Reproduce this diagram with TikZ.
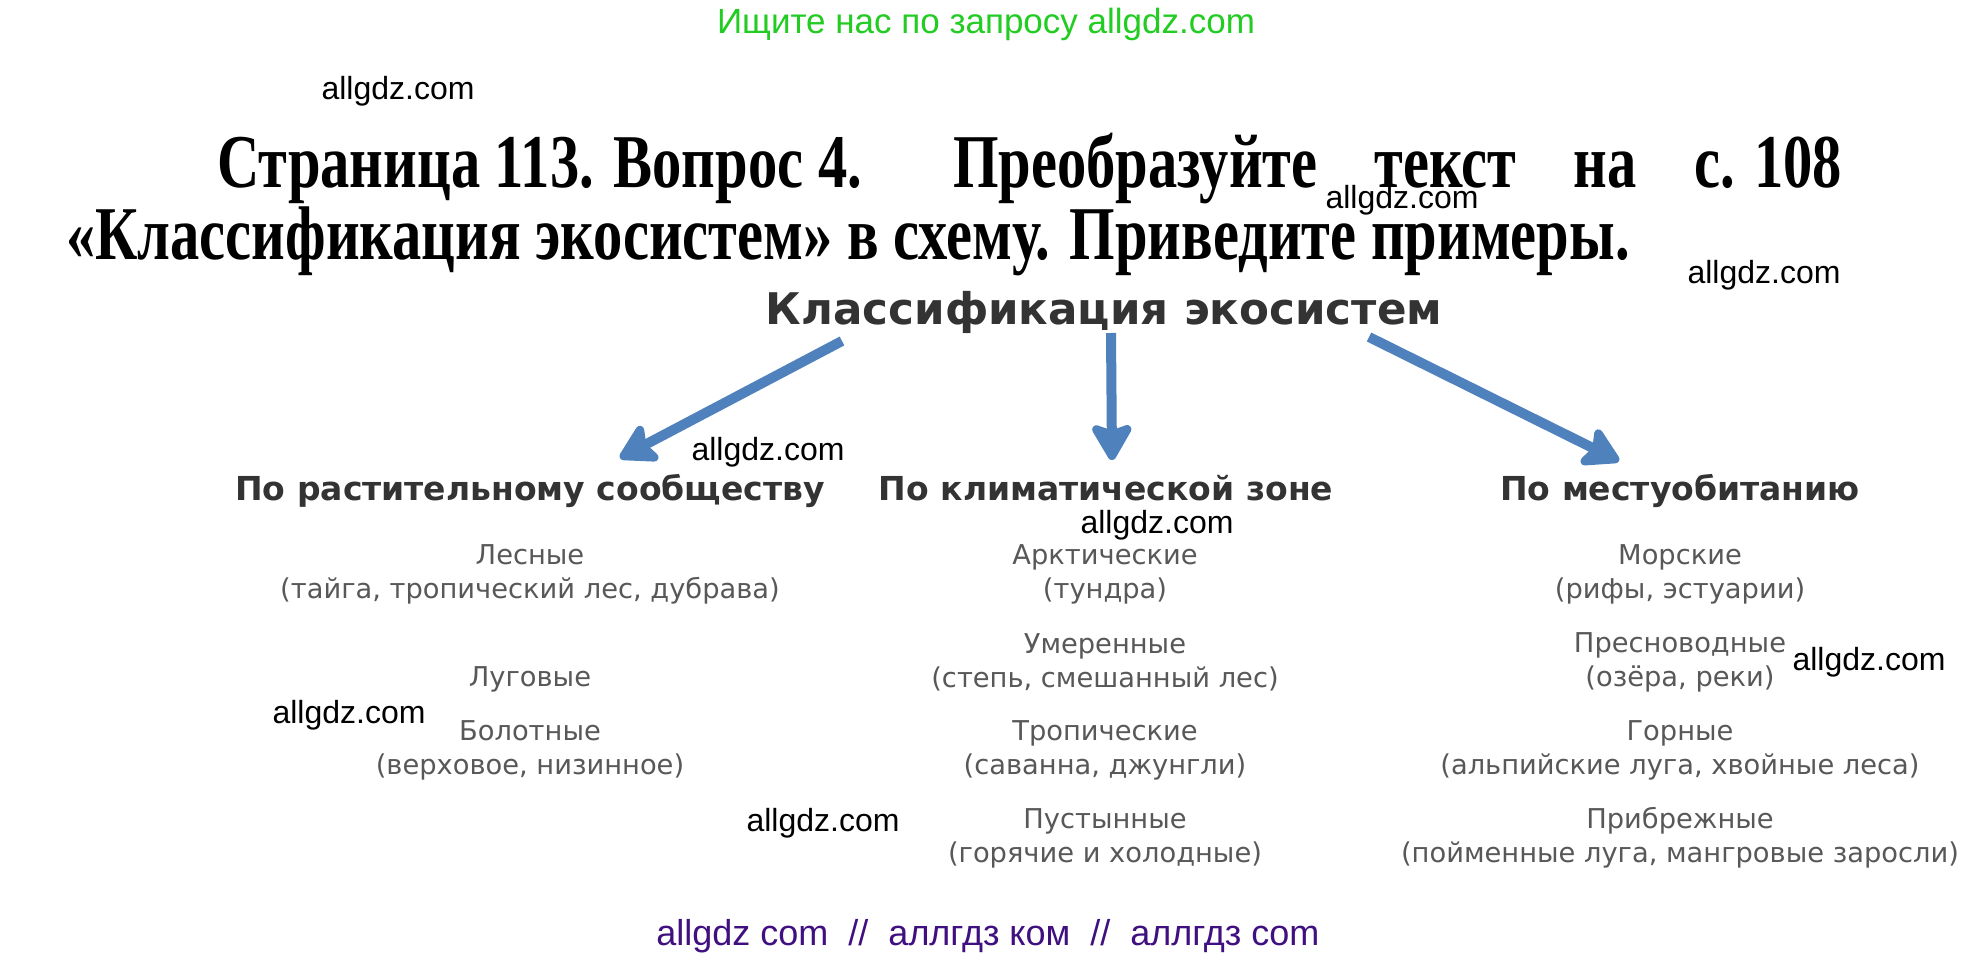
\documentclass[tikz,border=0pt]{standalone}
\usepackage{fontspec}
\setmainfont{Liberation Serif}
\newfontfamily\taskfont[FakeStretch=0.77]{Liberation Serif}
\newfontfamily\dejavu{DejaVu Sans}
\newfontfamily\wmfont{Liberation Sans}
\usetikzlibrary{arrows.meta}

\definecolor{arrowblue}{RGB}{79,129,189}
\definecolor{headgray}{RGB}{51,51,51}
\definecolor{itemgray}{RGB}{88,88,88}
\definecolor{searchgreen}{RGB}{34,204,34}
\definecolor{footpurple}{RGB}{64,16,128}

\tikzset{
  wmark/.style={font=\wmfont\fontsize{32}{38}\selectfont, text=black, inner sep=0pt},
  taskline/.style={font=\taskfont\bfseries\fontsize{76}{90}\selectfont, inner sep=0pt, anchor=base west},
  headline/.style={font=\dejavu\bfseries\fontsize{33}{40}\selectfont, text=headgray, inner sep=0pt, anchor=base},
  item/.style={font=\dejavu\fontsize{27.3}{34}\selectfont, text=itemgray, align=center, inner sep=0pt},
  bigarrow/.style={arrowblue, line width=10pt, -{Stealth[length=42pt,width=48pt,inset=8pt,round]}},
}

\begin{document}
\begin{tikzpicture}[x=1pt, y=-1pt]
\useasboundingbox[fill=white] (0,0) rectangle (1970,956);

% site lines
\node[font=\wmfont\fontsize{35}{42}\selectfont, text=searchgreen] (search) at (986,24) {Ищите нас по запросу allgdz.com};
\node[font=\wmfont\fontsize{36}{42}\selectfont, text=footpurple] (foot) at (988,936) {allgdz com \ // \ аллгдз ком \ // \ аллгдз com};

% task
\node[taskline] (task1) at (217,187) {Страница 113. Вопрос 4.};
\node[taskline] (task2) at (953,187) {\hbox to 889pt{Преобразуйте\hfill текст\hfill на\hfill с. 108}};
\node[taskline] (task3) at (66,259) {«Классификация экосистем» в схему. Приведите примеры.};

% scheme
\node[font=\dejavu\bfseries\fontsize{43.6}{53}\selectfont, text=headgray, inner sep=0pt] (root) at (1104,312) {Классификация экосистем};

\node[headline] (veg) at (530,500) {По растительному сообществу};
\node[headline] (clim) at (1106,500) {По климатической зоне};
\node[headline] (hab) at (1680,500) {По местуобитанию};

\draw[bigarrow] ([shift={(-262pt,-29pt)}]root.center) -- ([shift={(90pt,42pt)}]veg.base);
\draw[bigarrow] ([shift={(7pt,-21pt)}]root.center) -- ([shift={(6pt,40pt)}]clim.base);
\draw[bigarrow] ([shift={(265pt,-25pt)}]root.center) -- ([shift={(-61pt,39pt)}]hab.base);

\node[item] (forest) at (530,574) {Лесные\\(тайга, тропический лес, дубрава)};
\node[item] (meadow) at (530,679) {Луговые};
\node[item] (swamp) at (530,750) {Болотные\\(верховое, низинное)};

\node[item] (arctic) at (1105,574) {Арктические\\(тундра)};
\node[item] (temper) at (1105,662) {Умеренные\\(степь, смешанный лес)};
\node[item] (tropic) at (1105,750) {Тропические\\(саванна, джунгли)};
\node[item] (desert) at (1105,838) {Пустынные\\(горячие и холодные)};

\node[item] (marine) at (1680,574) {Морские\\(рифы, эстуарии)};
\node[item] (fresh) at (1680,662) {Пресноводные\\(озёра, реки)};
\node[item] (mount) at (1680,750) {Горные\\(альпийские луга, хвойные леса)};
\node[item] (coast) at (1680,838) {Прибрежные\\(пойменные луга, мангровые заросли)};

% watermarks
\node[wmark] (wm1) at (398,91) {allgdz.com};
\node[wmark] (wm2) at (1402,200) {allgdz.com};
\node[wmark] (wm3) at (1764,275) {allgdz.com};
\node[wmark] (wm4) at (768,452) {allgdz.com};
\node[wmark] (wm5) at (1157,525) {allgdz.com};
\node[wmark] (wm6) at (349,715) {allgdz.com};
\node[wmark] (wm7) at (823,823) {allgdz.com};
\node[wmark] (wm8) at (1869,662) {allgdz.com};
\end{tikzpicture}
\end{document}
